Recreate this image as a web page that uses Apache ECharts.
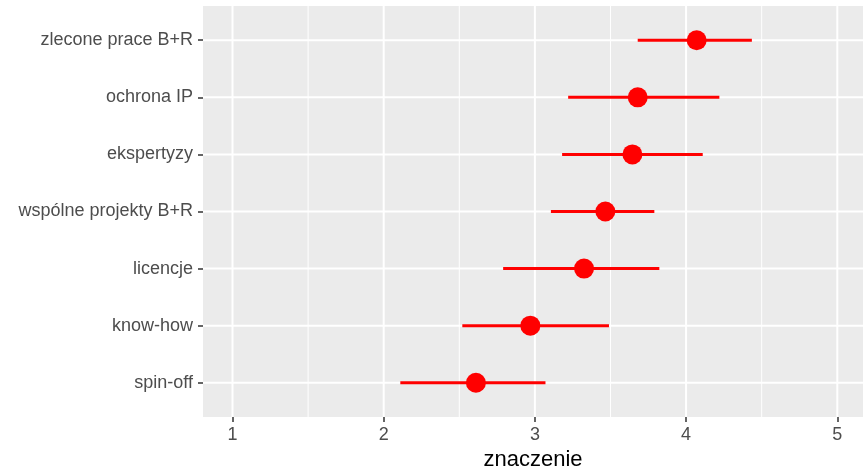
<!DOCTYPE html>
<html>
<head>
<meta charset="utf-8">
<script src="https://cdn.jsdelivr.net/npm/echarts@6/dist/echarts.min.js"></script>
<style>html,body{margin:0;padding:0;background:#fff}#c{width:863px;height:472px}</style>
</head>
<body>
<div id="c"></div>
<script>
// Categories, bottom to top
const categories = ['spin-off', 'know-how', 'licencje', 'wspólne projekty B+R', 'ekspertyzy', 'ochrona IP', 'zlecone prace B+R'];
const means = [2.61, 2.97, 3.325, 3.466, 3.645, 3.68, 4.07];
const lower = [2.11, 2.52, 2.79, 3.106, 3.18, 3.22, 3.68];
const upper = [3.07, 3.49, 3.823, 3.79, 4.11, 4.22, 4.435];
const xTicks = [1, 2, 3, 4, 5];
const xMinor = [1.5, 2.5, 3.5, 4.5];
const xTitle = 'znaczenie';

const catIdx = categories.map((c, i) => i);
const FONT = 'Liberation Sans, Arial, sans-serif';

const chart = echarts.init(document.getElementById('c'), null, {renderer: 'canvas'});

// grid line records: [orientation(0 = vertical at x, 1 = horizontal at y), value, width]
const gridData = [];
xMinor.forEach(v => gridData.push([0, v, 1]));
xTicks.forEach(v => gridData.push([0, v, 2]));
catIdx.forEach(v => gridData.push([1, v, 2]));

chart.setOption({
  animation: false,
  grid: {left: 203, right: 0, top: 6, bottom: 55, show: true, backgroundColor: '#EBEBEB', borderWidth: 0,
         containLabel: false, outerBoundsMode: 'none'},
  xAxis: {
    type: 'value', min: 0.805, max: 5.17,
    name: xTitle, nameLocation: 'middle', nameGap: 32,
    nameTextStyle: {color: '#000', fontSize: 22, fontFamily: FONT},
    axisLine: {show: false, onZero: false},
    axisTick: {show: true, customValues: xTicks, length: 5, lineStyle: {color: '#333333', width: 1.5}},
    axisLabel: {customValues: xTicks, color: '#4D4D4D', fontSize: 18, fontFamily: FONT, margin: 9},
    splitLine: {show: false}
  },
  yAxis: {
    type: 'value', min: -0.6, max: 6.6,
    axisLine: {show: false, onZero: false},
    axisTick: {show: true, customValues: catIdx, length: 5, lineStyle: {color: '#333333', width: 1.5}},
    axisLabel: {customValues: catIdx, formatter: v => categories[Math.round(v)], color: '#4D4D4D', fontSize: 18, fontFamily: FONT, margin: 10},
    splitLine: {show: false}
  },
  series: [
    {
      type: 'custom', z: 1, silent: true,
      data: gridData,
      encode: {x: 1},
      renderItem: function (params, api) {
        const cs = params.coordSys;
        const o = api.value(0), v = api.value(1), w = api.value(2);
        if (o === 0) {
          const p = api.coord([v, 0]);
          return {type: 'line', shape: {x1: p[0], y1: cs.y, x2: p[0], y2: cs.y + cs.height}, style: {stroke: '#FFFFFF', lineWidth: w}};
        }
        const p = api.coord([1, v]);
        return {type: 'line', shape: {x1: cs.x, y1: p[1], x2: cs.x + cs.width, y2: p[1]}, style: {stroke: '#FFFFFF', lineWidth: w}};
      }
    },
    {
      type: 'custom', z: 3, silent: true,
      data: catIdx.map(i => [i, lower[i], upper[i]]),
      encode: {x: [1, 2], y: 0},
      renderItem: function (params, api) {
        const y = api.value(0);
        const a = api.coord([api.value(1), y]);
        const b = api.coord([api.value(2), y]);
        return {type: 'line', shape: {x1: a[0], y1: a[1], x2: b[0], y2: b[1]}, style: {stroke: '#FF0000', lineWidth: 3}};
      }
    },
    {
      type: 'scatter', z: 4, symbol: 'circle', symbolSize: 20,
      itemStyle: {color: '#FF0000', opacity: 1},
      data: catIdx.map(i => [means[i], i])
    }
  ]
});
</script>
</body>
</html>
